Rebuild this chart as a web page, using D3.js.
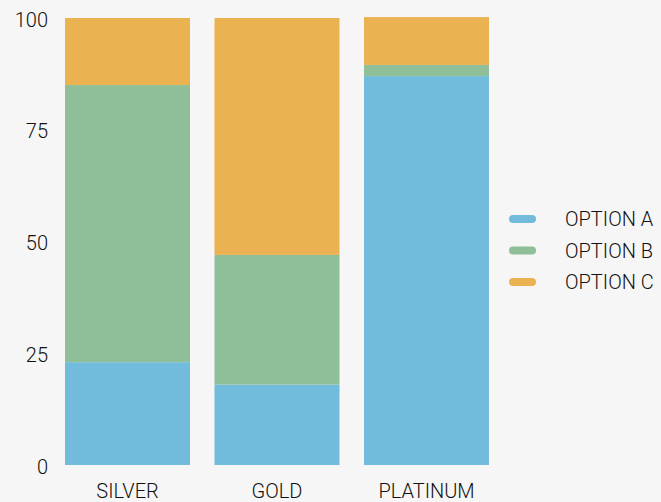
<!DOCTYPE html>
<html>
<head>
<meta charset="utf-8">
<script src="https://cdn.jsdelivr.net/npm/d3@7"></script>
<style>
  html, body { margin: 0; padding: 0; background: #f6f6f6; }
  svg { display: block; }
  svg text { font-family: "Roboto", "Open Sans", sans-serif; font-weight: 300; }
  .tick text { fill: #111; font-size: 20px; }
  .legend text { fill: #111; font-size: 20px; }
</style>
</head>
<body>
<div class="chart"></div>
<script>
// chart data
const categories = ["SILVER", "GOLD", "PLATINUM"];
const seriesNames = ["OPTION A", "OPTION B", "OPTION C"];
const optionA = [23, 18, 87];
const optionB = [62, 29, 2.5];
const optionC = [15, 53, 10.7];
const yTicks = [0, 25, 50, 75, 100];
const colors = ["#71bcdc", "#8ebf98", "#ebb252"];

(function () {
    const svgWidth = 661,
        svgHeight = 502;

    const svg = d3.select(".chart")
        .append("svg")
        .attr("width", svgWidth)
        .attr("height", svgHeight);

    // build rows for d3.stack
    const rows = categories.map((c, i) => ({
        cat: c,
        "OPTION A": optionA[i],
        "OPTION B": optionB[i],
        "OPTION C": optionC[i]
    }));
    const stacked = d3.stack().keys(seriesNames)(rows);

    const x = d3.scaleBand()
        .domain(categories)
        .range([65, 489])
        .paddingInner(0.164)
        .paddingOuter(0);

    const y = d3.scaleLinear()
        .domain([0, 100])
        .range([465, 18]);

    const color = d3.scaleOrdinal().domain(seriesNames).range(colors);

    // bars
    svg.append("g").selectAll("g")
        .data(stacked)
        .enter()
        .append("g")
        .attr("fill", d => color(d.key))
        .selectAll("rect")
        .data(d => d)
        .enter()
        .append("rect")
        .attr("x", d => x(d.data.cat))
        .attr("width", x.bandwidth())
        .attr("y", d => y(d[1]))
        .attr("height", d => y(d[0]) - y(d[1]));

    // y axis
    const yAxis = svg.append("g")
        .attr("transform", "translate(48,0)")
        .call(d3.axisLeft(y).tickValues(yTicks).tickSize(0).tickPadding(0));
    yAxis.select(".domain").remove();
    yAxis.selectAll(".tick text").attr("dy", "0.4em");

    // x axis
    const xAxis = svg.append("g")
        .attr("transform", "translate(0,465)")
        .call(d3.axisBottom(x).tickSize(0).tickPadding(19));
    xAxis.select(".domain").remove();

    // legend
    const legend = svg.append("g").attr("class", "legend")
        .selectAll("g")
        .data(seriesNames)
        .enter()
        .append("g")
        .attr("transform", (d, i) => `translate(0, ${219 + i * 31.5})`);

    legend.append("line")
        .attr("x1", 513).attr("x2", 532)
        .attr("stroke", d => color(d))
        .attr("stroke-width", 8)
        .attr("stroke-linecap", "round");

    legend.append("text")
        .attr("x", 565)
        .attr("dy", "0.36em")
        .text(d => d);
})();
</script>
</body>
</html>
